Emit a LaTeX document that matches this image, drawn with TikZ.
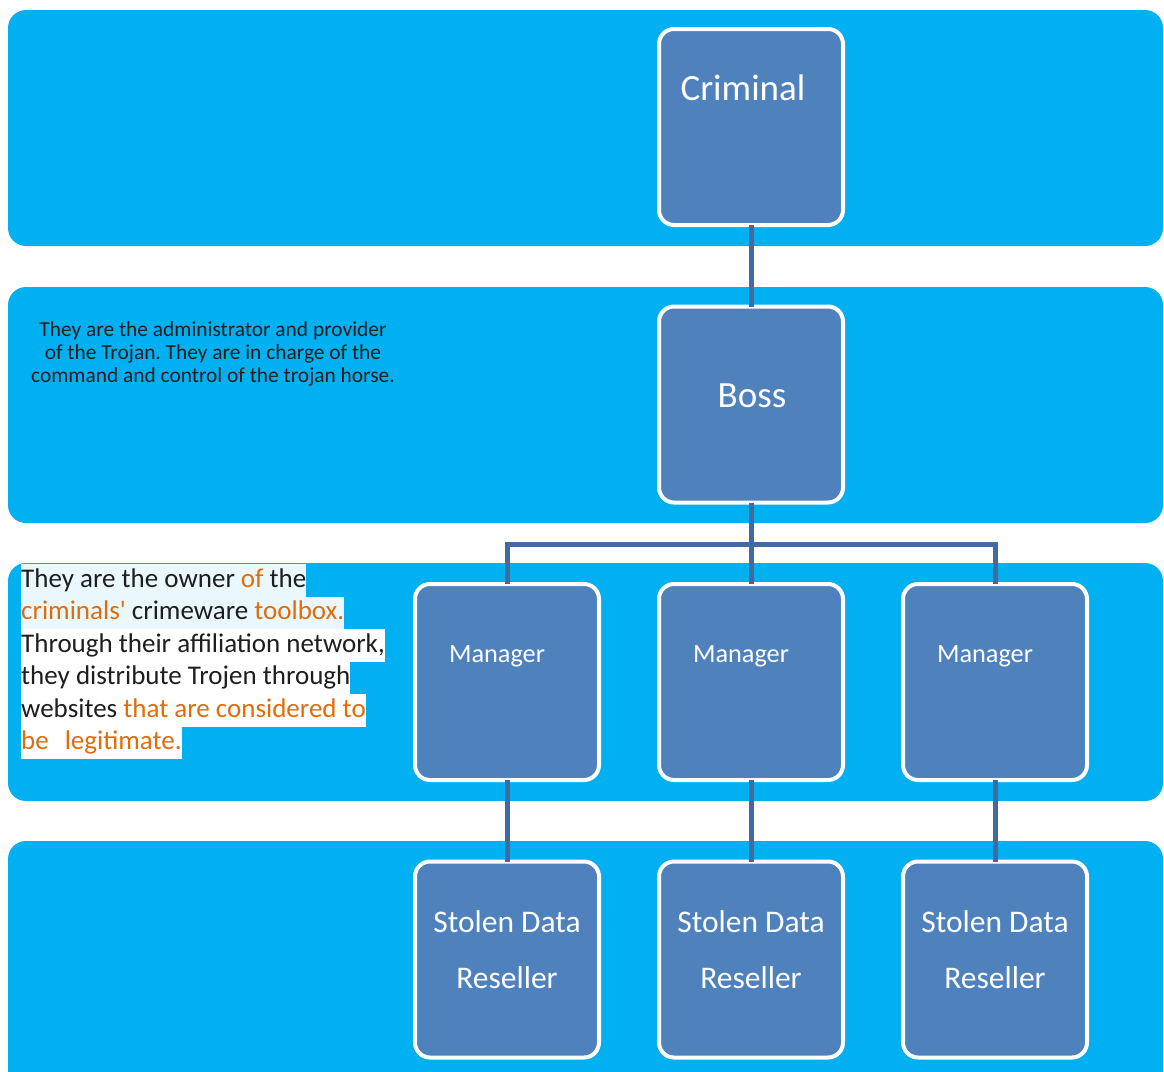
\documentclass[tikz,border=0pt]{standalone}
\usepackage{fontspec}
\setmainfont{Carlito}
\frenchspacing
\newcommand{\sq}{\XeTeXglyph\XeTeXcharglyph"27\relax}
\definecolor{bandcyan}{RGB}{0,176,240}
\definecolor{boxblue}{RGB}{79,129,189}
\definecolor{connblue}{RGB}{65,106,162}
\definecolor{hlcyan}{RGB}{234,248,254}
\definecolor{txtdark}{RGB}{30,30,30}
\definecolor{txtorange}{RGB}{227,108,9}
\begin{document}
\begin{tikzpicture}[x=1pt,y=-1pt,
  band/.style={fill=bandcyan,rounded corners=18pt},
  orgbox/.style={draw=white,line width=4pt,fill=boxblue,rounded corners=15pt,
    minimum width=184pt,minimum height=196pt,inner sep=0pt},
  conn/.style={draw=connblue,line width=5pt},
  bigtxt/.style={text=white,inner sep=0pt,font=\fontsize{37}{40}\selectfont},
  midtxt/.style={text=white,inner sep=0pt,font=\fontsize{31.5}{36}\selectfont},
  mgrtxt/.style={text=white,inner sep=0pt,anchor=base,font=\fontsize{26.3}{30}\selectfont},
  hline/.style={anchor=north west,inner xsep=0pt,inner ysep=3.25pt,text height=20pt,text depth=6pt,
    text=txtdark,font=\fontsize{27}{32.5}\selectfont}
]
\clip (0,0) rectangle (1164,1071);
\fill[white] (0,0) rectangle (1164,1071);
% bands
\fill[band] (8,10) rectangle (1163,246);
\fill[band] (8,287) rectangle (1163,523);
\fill[band] (8,563) rectangle (1163,801);
\fill[band] (8,841) rectangle (1163,1110);

% boxes
\node[orgbox] (crim) at (751,127) {};
\node[orgbox] (boss) at (751,404.5) {};
\node[orgbox] (m1) at (507,682) {};
\node[orgbox] (m2) at (751,682) {};
\node[orgbox] (m3) at (995,682) {};
\node[orgbox] (r1) at (507,959.5) {};
\node[orgbox] (r2) at (751,959.5) {};
\node[orgbox] (r3) at (995,959.5) {};

% connectors
\coordinate (bar) at (751,544);
\draw[conn] ([yshift=2pt]crim.south) -- ([yshift=-2pt]boss.north);
\draw[conn] ([yshift=2pt]boss.south) -- (bar);
\draw[conn] ([yshift=-2pt]m1.north) |- (bar) -| ([yshift=-2pt]m3.north);
\draw[conn] (bar) -- ([yshift=-2pt]m2.north);
\draw[conn] ([yshift=2pt]m1.south) -- ([yshift=-2pt]r1.north);
\draw[conn] ([yshift=2pt]m2.south) -- ([yshift=-2pt]r2.north);
\draw[conn] ([yshift=2pt]m3.south) -- ([yshift=-2pt]r3.north);

% box texts
\node[bigtxt] (tcrim) at (743,88) {Criminal};
\node[bigtxt] (tboss) at (752,396) {Boss};
\node[mgrtxt] (tm1) at (497,662) {Manager};
\node[mgrtxt] (tm2) at (741,662) {Manager};
\node[mgrtxt] (tm3) at (985,662) {Manager};
\foreach \i/\x in {1/507,2/751,3/995}{
  \node[midtxt,anchor=base] (ts\i) at (\x,932) {Stolen Data};
  \node[midtxt,anchor=base] (tr\i) at (\x,988.5) {Reseller};
}

% top description
\node[align=center,inner sep=0pt,text=txtdark,font=\fontsize{21.4}{23}\selectfont] (desc1) at (213,354)
  {They are the administrator and provider\\of the Trojan. They are in charge of the\\command and control of the trojan horse.};

% left description with highlights
\node[hline,fill=hlcyan] (l1) at (21,564) {They are the owner \textcolor{txtorange}{of} the\hspace{7pt}};
\node[hline,fill=hlcyan] (l2) at (21,596.5) {\textcolor{txtorange}{criminals\sq} crimeware \textcolor{txtorange}{toolbox.}\hspace{7pt}};
\node[hline,fill=white] (l3) at (21,629) {Through their affiliation network,\hspace{6pt}};
\node[hline,fill=white] (l4) at (21,661.5) {they distribute Trojen through\hspace{7pt}};
\node[hline,fill=white] (l5) at (21,694) {websites \textcolor{txtorange}{that are considered to}\hspace{7pt}};
\node[hline,fill=white] (l6) at (21,726.5) {\textcolor{txtorange}{be\hspace{16pt}legitimate.}\hspace{6pt}};
\end{tikzpicture}
\end{document}
